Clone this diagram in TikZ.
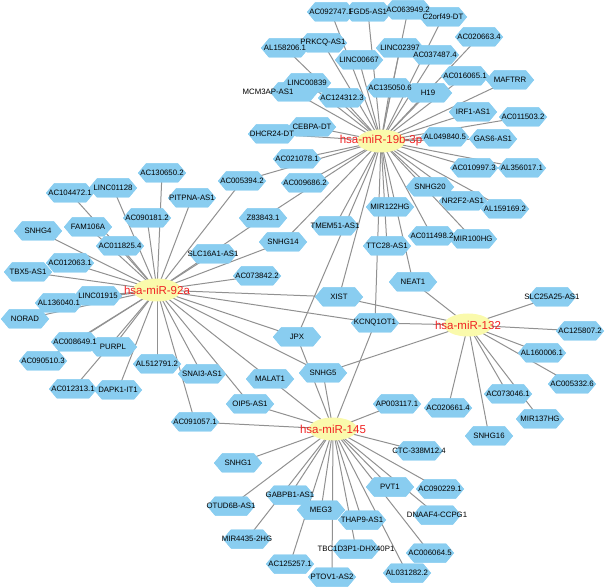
\documentclass[tikz,border=0pt]{standalone}
\usepackage{fontspec}
\setmainfont{Liberation Sans}
\usetikzlibrary{backgrounds,shapes.geometric}
\definecolor{hexblue}{RGB}{137,205,240}
\definecolor{hubyel}{RGB}{250,250,172}
\definecolor{edgegray}{RGB}{145,145,145}
\definecolor{hubred}{RGB}{240,35,35}
\tikzset{
  hexfill/.style={fill=hexblue},
  lbl/.style={font=\fontsize{7.8}{9}\selectfont, inner sep=0pt, text=black},
  hub/.style={ellipse, fill=hubyel, minimum width=48pt, minimum height=23pt, inner sep=0pt,
    label={[hublbl]center:#1}},
  hublbl/.style={font=\fontsize{11.5}{13}\selectfont, text=hubred, inner sep=0pt},
  edge/.style={draw=edgegray, line width=1pt},
}
\newcommand\hexpath[2]{(#1,#2) ++(-24,0) -- ++(8,-9.5) -- ++(32,0) -- ++(8,9.5) -- ++(-8,9.5) -- ++(-32,0) -- cycle}
\newcommand\hexat[2]{%
  \fill[hexfill] \hexpath{#1}{#2};
  \begin{scope}
    \clip \hexpath{#1}{#2};
    \draw[hexblue, line width=20pt] \hexpath{#1}{#2};
  \end{scope}}
\def\leaves{%
ac092747/331/12/AC092747.1, ac063949/408/10/AC063949.2, fgd5/368/12/FGD5-AS1,
c2orf49/443/17/C2orf49-DT, al158206/285/48/AL158206.1, prkcq/323/43/PRKCQ-AS1,
linc00667/359/60/LINC00667, linc02397/400/48/LINC02397, ac037487/435/55/AC037487.4,
ac020663/479/37/AC020663.4, linc00839/307/83/LINC00839, ac124312/342/98/AC124312.3,
ac135050/390/88/AC135050.6, h19/428/93/H19, ac016065/465/76/AC016065.1,
maftrr/510/80/MAFTRR, irf1/473/112/IRF1-AS1, ac011503/523/117/AC011503.2,
dhcr24/272/134/DHCR24-DT, cebpa/312/127/CEBPA-DT, al049840/445/137/AL049840.5,
gas6/493/139/GAS6-AS1, ac010997/474/168/AC010997.3, al356017/522/168/AL356017.1,
snhg20/430/187/SNHG20, nr2f2/463/201/NR2F2-AS1, al159169/505/209/AL159169.2,
ac011498/432/236/AC011498.2, mir100hg/473/239/MIR100HG, mir122hg/390/207/MIR122HG,
ttc28/387/246/TTC28-AS1, tmem51/335/226/TMEM51-AS1, ac021078/297/159/AC021078.1,
ac009686/305/183/AC009686.2, snhg14/283/242/SNHG14, z83843/263/218/Z83843.1,
ac005394/242/181/AC005394.2,
ac130650/162/173/AC130650.2, ac104472/70/193/AC104472.1, linc01128/113/188/LINC01128,
ac090181/147/218/AC090181.2, pitpna/192/198/PITPNA-AS1, snhg4/38/231/SNHG4,
fam106a/88/227/FAM106A, ac011825/120/246/AC011825.4, slc16a1/213/254/SLC16A1-AS1,
tbx5/28/272/TBX5-AS1, ac012063/70/263/AC012063.1, norad/25/319/NORAD,
al136040/59/303/AL136040.1, linc01915/98/296/LINC01915, ac090510/43/361/AC090510.3,
ac008649/75/342/AC008649.1, purpl/113/347/PURPL, al512791/157/364/AL512791.2,
snai3/202/374/SNAI3-AS1, ac012313/73/389/AC012313.1, dapk1/118/390/DAPK1-IT1,
ac073842/257/276/AC073842.2,
xist/339/297/XIST, kcnq1ot1/375/323/KCNQ1OT1, jpx/297/337/JPX, snhg5/323/373/SNHG5,
malat1/270/379/MALAT1, oip5/250/404/OIP5-AS1, ac091057/195/422/AC091057.1,
neat1/413/282/NEAT1,
slc25a25/552/297/SLC25A25-AS1, ac125807/580/331/AC125807.2, al160006/542/353/AL160006.1,
ac005332/572/384/AC005332.6, ac073046/508/394/AC073046.1, mir137hg/540/419/MIR137HG,
ac020661/448/408/AC020661.4, snhg16/489/436/SNHG16,
ap003117/397/404/AP003117.1, ctc338/419/451/CTC-338M12.4, pvt1/390/487/PVT1,
ac090229/440/489/AC090229.1, dnaaf4/437/515/DNAAF4-CCPG1, thap9/362/520/THAP9-AS1,
tbc1d3p1/356/549/TBC1D3P1-DHX40P1, ac006064/430/553/AC006064.5, al031282/407/573/AL031282.2,
ptov1/332/577/PTOV1-AS2, ac125257/290/564/AC125257.1, gabpb1/290/495/GABPB1-AS1,
meg3/321/510/MEG3, mir4435/247/539/MIR4435-2HG, otud6b/231/506/OTUD6B-AS1,
snhg1/238/463/SNHG1}
\begin{document}
\begin{tikzpicture}[x=1pt,y=-1pt]
\useasboundingbox (0,0) rectangle (606,588);
% hexagons
\hexat{294}{92}
\foreach \n/\x/\y/\t in \leaves { \hexat{\x}{\y} }
% labels (named nodes)
\node[lbl] (mcm3ap) at (268,92) {MCM3AP-AS1};
\coordinate (mcm3aphex) at (294,92);
\foreach \n/\x/\y/\t in \leaves { \node[lbl] (\n) at (\x,\y) {\t}; }
% hubs
\node[hub=hsa-miR-19b-3p] (h19b) at (381,141) {};
\node[hub=hsa-miR-92a] (h92a) at (157,290) {};
\node[hub=hsa-miR-132] (h132) at (468,325) {};
\node[hub=hsa-miR-145] (h145) at (333,429) {};
% edges
\begin{pgfonlayer}{background}
\foreach \n in {ac092747,ac063949,fgd5,c2orf49,al158206,prkcq,linc00667,linc02397,ac037487,ac020663,linc00839,ac124312,ac135050,h19,ac016065,maftrr,irf1,ac011503,dhcr24,cebpa,al049840,gas6,ac010997,al356017,snhg20,nr2f2,al159169,ac011498,mir100hg,mir122hg,ttc28,tmem51,ac021078,ac009686,snhg14,z83843,ac005394,xist,kcnq1ot1,jpx,neat1,mcm3aphex}
  \draw[edge] (h19b.center) -- (\n.center);
\foreach \n in {ac130650,ac104472,linc01128,ac090181,pitpna,snhg4,fam106a,ac011825,slc16a1,tbx5,ac012063,norad,al136040,linc01915,ac090510,ac008649,purpl,al512791,snai3,ac012313,dapk1,ac073842,snhg14,z83843,ac005394,xist,kcnq1ot1,jpx,snhg5,malat1,oip5,ac091057}
  \draw[edge] (h92a.center) -- (\n.center);
\foreach \n in {slc25a25,ac125807,al160006,ac005332,ac073046,mir137hg,ac020661,snhg16,neat1,xist,kcnq1ot1,snhg5}
  \draw[edge] (h132.center) -- (\n.center);
\foreach \n in {ap003117,ctc338,pvt1,ac090229,dnaaf4,thap9,tbc1d3p1,ac006064,al031282,ptov1,ac125257,gabpb1,meg3,mir4435,otud6b,snhg1,kcnq1ot1,jpx,snhg5,malat1,oip5,ac091057}
  \draw[edge] (h145.center) -- (\n.center);
\end{pgfonlayer}
\end{tikzpicture}
\end{document}
